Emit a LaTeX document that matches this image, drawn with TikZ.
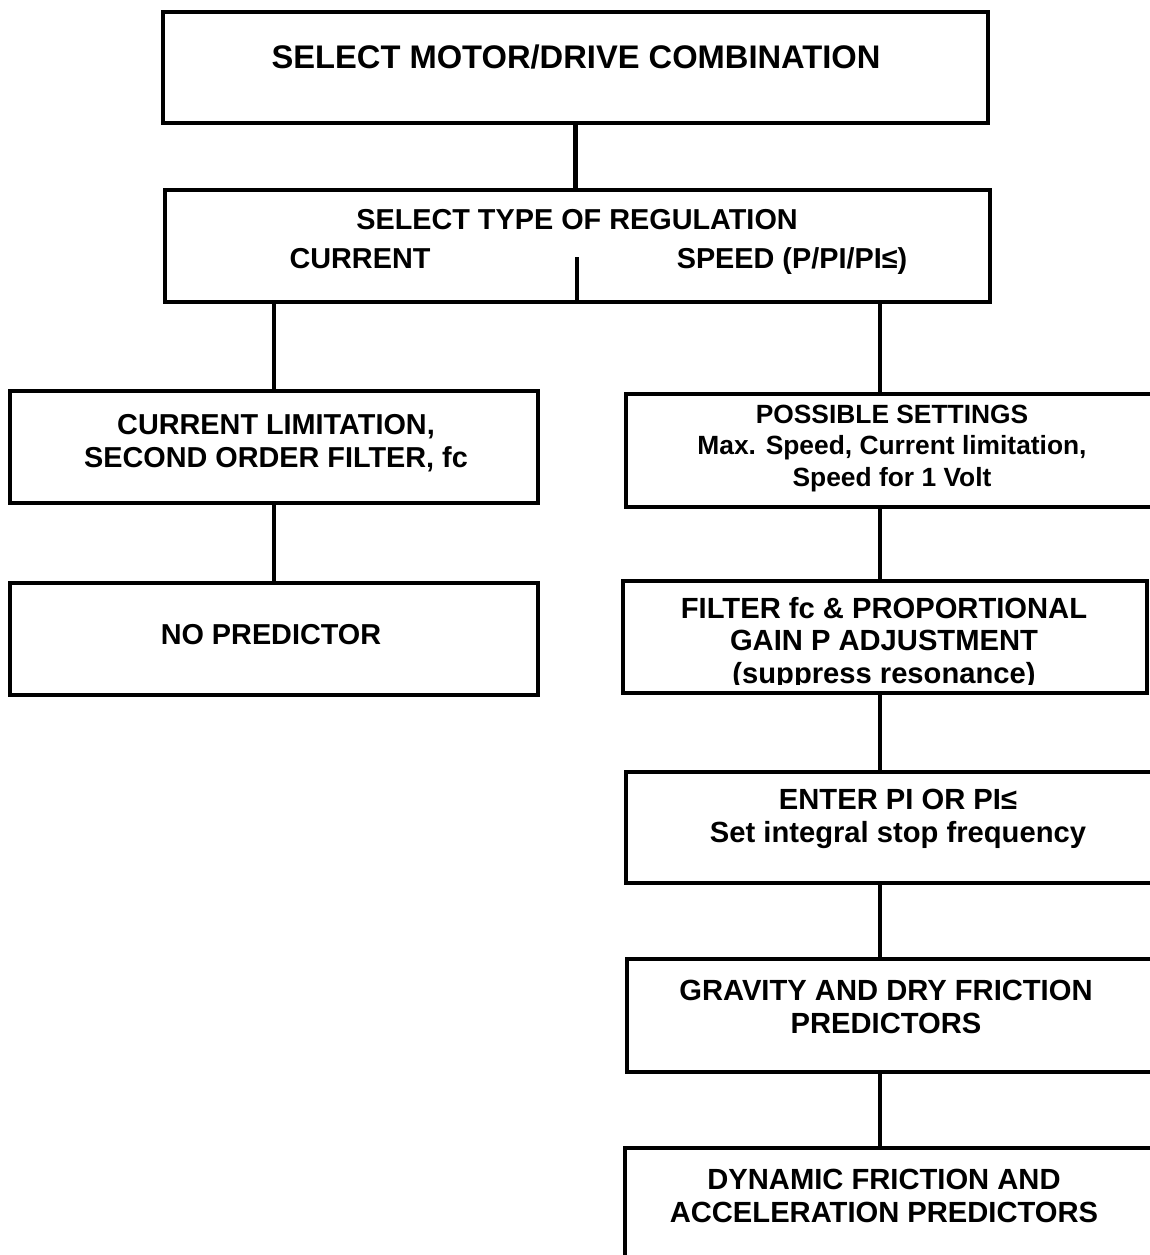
\documentclass[tikz,border=0pt]{standalone}
\usepackage{fontspec}
\setmainfont{Liberation Sans}

\tikzset{
  flowbox/.style={draw, line width=2.7pt, anchor=north west, inner sep=0pt, outer sep=0pt},
  flowtext/.style={align=center, inner sep=0pt, font=\bfseries\fontsize{16.4}{18.8}\selectfont},
  rightfont/.style={font=\bfseries\fontsize{16.6}{18.5}\selectfont},
  link/.style={line width=2.7pt},
}

\begin{document}
\begin{tikzpicture}
  \useasboundingbox (0,0) rectangle (23,-25.1);
  \clip (0,0) rectangle (23,-25.1);
  % common part
  \node[flowbox, minimum width=16.5cm, minimum height=2.22cm] (motor) at (3.26,-0.24) {};
  \node[flowtext, font=\bfseries\fontsize{18.6}{20}\selectfont] (motortxt) at (11.52,-1.14) {SELECT MOTOR/DRIVE COMBINATION};
  \node[flowbox, minimum width=16.5cm, minimum height=2.24cm] (regul) at (3.30,-3.80) {};
  \node[flowtext] (regultxt) at (11.54,-4.40) {SELECT TYPE OF REGULATION};
  \node[flowtext] (curtxt) at (7.20,-5.18) {CURRENT};
  \node[flowtext] (spdtxt) at (15.84,-5.22) {SPEED (P/PI/PI≤)};
  \coordinate (split) at (11.54,-5.14);
  \coordinate (spine) at (17.60,0);
  \draw[link] (motor.south) -- (motor.south |- regul.north);
  \draw[link] (split) -- (split |- regul.south);

  % current regulation
  \node[flowbox, minimum width=10.56cm, minimum height=2.24cm] (curlim) at (0.20,-7.82) {};
  \node[flowtext] (curlimtxt) at (5.52,-8.87) {CURRENT LIMITATION,\\SECOND ORDER FILTER, fc};
  \node[flowbox, minimum width=10.56cm, minimum height=2.24cm] (nopred) at (0.20,-11.66) {};
  \node[flowtext] (nopredtxt) at (5.42,-12.70) {NO PREDICTOR};
  \draw[link] (curlim.north |- regul.south) -- (curlim.north);
  \draw[link] (curlim.south) -- (nopred.north);

  % speed regulation
  \node[flowbox, minimum width=10.68cm, minimum height=2.26cm] (possset) at (12.52,-7.88) {};
  \node[flowtext, font=\bfseries\fontsize{15}{17.9}\selectfont] (posssettxt) at (17.84,-8.97) {POSSIBLE SETTINGS\\Max. Speed, Current limitation,\\Speed for 1 Volt};
  \node[flowbox, minimum width=10.48cm, minimum height=2.24cm] (filter) at (12.46,-11.62) {};
  \node[flowtext, rightfont] (filtertxt) at (17.68,-12.86) {FILTER fc \& PROPORTIONAL\\GAIN P ADJUSTMENT\\(suppress resonance)};
  \fill[white] (12.54,-13.69) rectangle (22.86,-13.80);
  \node[flowbox, minimum width=10.68cm, minimum height=2.22cm] (enter) at (12.52,-15.44) {};
  \node[flowtext, rightfont] (entertxt) at (17.96,-16.38) {ENTER PI OR PI≤\\Set integral stop frequency};
  \node[flowbox, minimum width=10.66cm, minimum height=2.26cm] (gravity) at (12.54,-19.18) {};
  \node[flowtext, rightfont] (gravitytxt) at (17.72,-20.14) {GRAVITY AND DRY FRICTION\\PREDICTORS};
  \node[flowbox, minimum width=10.70cm, minimum height=3.4cm] (dynamic) at (12.50,-22.96) {};
  \node[flowtext, rightfont] (dynamictxt) at (17.68,-23.92) {DYNAMIC FRICTION AND\\ACCELERATION PREDICTORS};
  \draw[link] (spine |- regul.south) -- (spine |- possset.north);
  \draw[link] (spine |- possset.south) -- (spine |- filter.north);
  \draw[link] (spine |- filter.south) -- (spine |- enter.north);
  \draw[link] (spine |- enter.south) -- (spine |- gravity.north);
  \draw[link] (spine |- gravity.south) -- (spine |- dynamic.north);
\end{tikzpicture}
\end{document}
